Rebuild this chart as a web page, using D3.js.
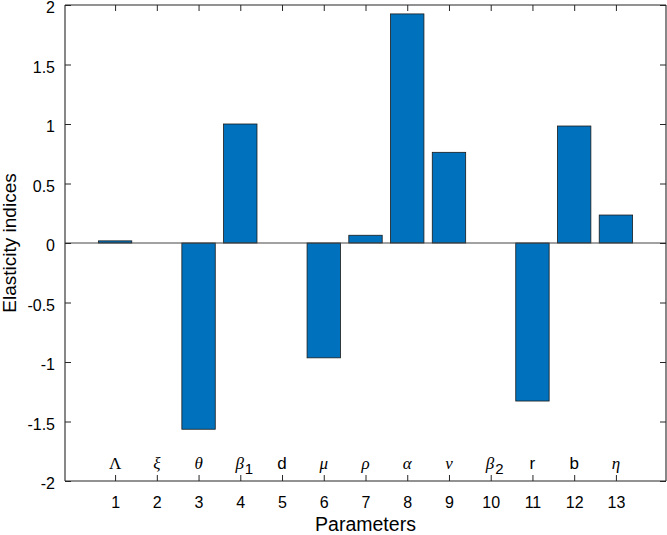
<!DOCTYPE html>
<html>
<head>
<meta charset="utf-8">
<script src="https://cdn.jsdelivr.net/npm/d3@7"></script>
<style>
  body { margin: 0; background: #fff; }
  svg { display: block; font-family: "Liberation Sans", Arial, sans-serif; }
</style>
</head>
<body>
<div id="chart"></div>
<script>
// Parameter index and elasticity values
var params = [1, 2, 3, 4, 5, 6, 7, 8, 9, 10, 11, 12, 13];
var values = [0.018, 0, -1.565, 1.0, 0, -0.965, 0.065, 1.925, 0.762, 0, -1.328, 0.983, 0.235];
// label text: [main, subscript, style]
var names = [
    ["Λ", "", "serif"], ["ξ", "", "serifi"], ["θ", "", "serifi"], ["β", "1", "serifi"],
    ["d", "", "sans"], ["μ", "", "serifi"], ["ρ", "", "serifi"], ["α", "", "serifi"],
    ["ν", "", "serifi"], ["β", "2", "serifi"], ["r", "", "sans"], ["b", "", "sans"], ["η", "", "serifi"]
];
var yTicks = [-2, -1.5, -1, -0.5, 0, 0.5, 1, 1.5, 2];

var width = 667, height = 535;
var mLeft = 65, mRight = 666, mTop = 5, mBottom = 481;
var axisColor = "#262626";
var sans = "'Liberation Sans', Arial, sans-serif";
var serif = "'Liberation Serif', 'Times New Roman', serif";

var svg = d3.select("#chart").append("svg")
    .attr("width", width)
    .attr("height", height);

var x = d3.scaleLinear().domain([-0.2, 14.2]).range([mLeft, mRight]);
var y = d3.scaleLinear().domain([-2, 2]).range([mBottom, mTop]);
var barW = x(0.8) - x(0);

// Bars
svg.append("g")
    .selectAll("rect")
    .data(params)
    .enter().append("rect")
    .attr("x", d => x(d) - barW / 2)
    .attr("y", (d, i) => y(Math.max(0, values[i])))
    .attr("width", barW)
    .attr("height", (d, i) => Math.abs(y(values[i]) - y(0)))
    .attr("fill", "#0072BD")
    .attr("stroke", "#1a1a1a")
    .attr("stroke-width", 0.8);

// Baseline at zero
svg.append("line")
    .attr("x1", mLeft).attr("x2", mRight)
    .attr("y1", y(0)).attr("y2", y(0))
    .attr("stroke", "#444").attr("stroke-width", 1);

// Axes (ticks pointing inward, box on)
var tickLen = 6;
var xAxisB = d3.axisBottom(x).tickValues(params).tickSize(-tickLen).tickPadding(16);
var xAxisT = d3.axisTop(x).tickValues(params).tickSize(-tickLen).tickFormat("");
var yAxisL = d3.axisLeft(y).tickValues(yTicks).tickSize(-tickLen).tickPadding(10).tickFormat(d => String(d));
var yAxisR = d3.axisRight(y).tickValues(yTicks).tickSize(-tickLen).tickFormat("");

function styleAxis(g) {
    g.select(".domain").attr("stroke", axisColor).attr("stroke-width", 1.1);
    g.selectAll(".tick line").attr("stroke", axisColor).attr("stroke-width", 1);
    g.selectAll(".tick text").attr("fill", "#000").style("font-size", "16px")
        .style("font-family", sans);
}

svg.append("g").attr("transform", "translate(0," + mBottom + ")").call(xAxisB).call(styleAxis)
    .select(".domain").attr("d", "M" + mLeft + ",0H" + mRight);
svg.append("g").attr("transform", "translate(0," + mTop + ")").call(xAxisT).call(styleAxis)
    .select(".domain").attr("d", "M" + mLeft + ",0H" + mRight);
var gy = svg.append("g").attr("transform", "translate(" + mLeft + ",0)").call(yAxisL).call(styleAxis);
gy.select(".domain").attr("d", "M0," + mTop + "V" + mBottom);
gy.selectAll(".tick text").attr("dy", "0.48em");
svg.append("g").attr("transform", "translate(" + mRight + ",0)").call(yAxisR).call(styleAxis)
    .select(".domain").attr("d", "M0," + mTop + "V" + mBottom);

// Parameter symbol labels inside the plot
svg.append("g")
    .selectAll("text")
    .data(params)
    .enter().append("text")
    .attr("x", d => x(d))
    .attr("y", y(-2) - 12)
    .attr("text-anchor", "middle")
    .style("font-size", "17px")
    .each(function(d, i) {
        var t = d3.select(this);
        var nm = names[i];
        t.append("tspan")
            .style("font-family", nm[2] == "sans" ? sans : serif)
            .style("font-style", nm[2] == "serifi" ? "italic" : "normal")
            .text(nm[0]);
        if (nm[1] != "") {
            t.attr("x", x(d) + 4);
            t.append("tspan")
                .attr("dy", 5)
                .attr("dx", 1)
                .style("font-family", sans)
                .style("font-size", "15px")
                .text(nm[1]);
        }
    });

// Axis titles
svg.append("text")
    .attr("x", (mLeft + mRight) / 2)
    .attr("y", 531)
    .attr("text-anchor", "middle")
    .style("font-size", "19.5px")
    .text("Parameters");

svg.append("text")
    .attr("transform", "translate(16," + (mTop + mBottom) / 2 + ") rotate(-90)")
    .attr("text-anchor", "middle")
    .style("font-size", "19px")
    .text("Elasticity indices");
</script>
</body>
</html>
